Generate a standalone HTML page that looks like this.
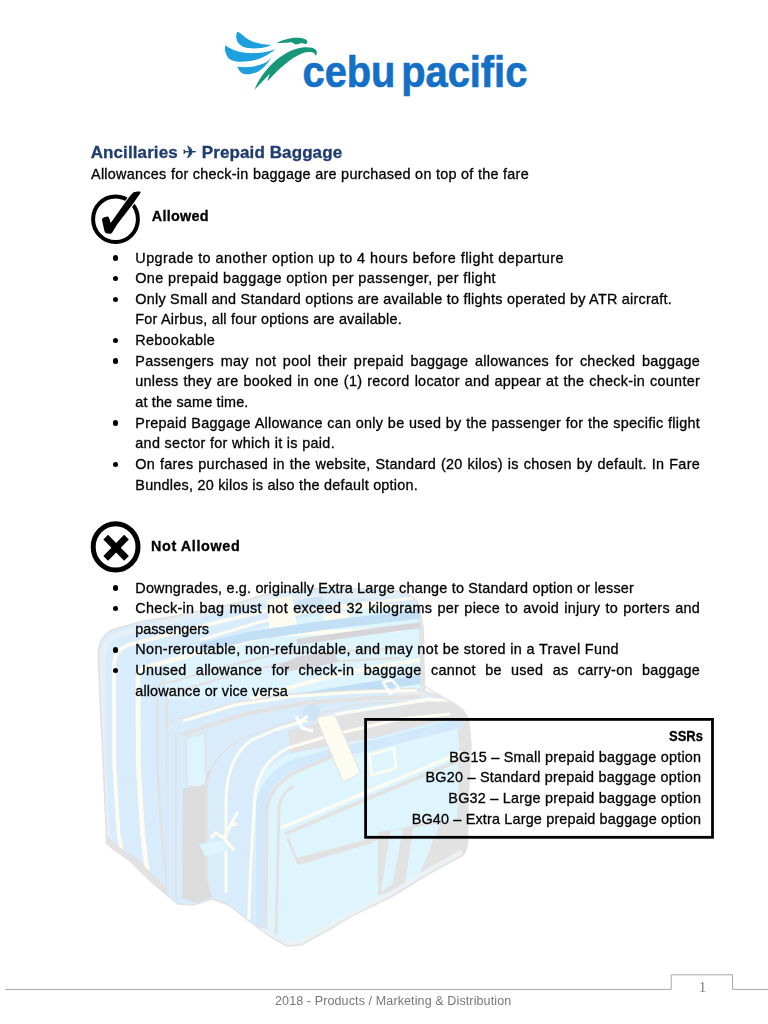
<!DOCTYPE html>
<html lang="en">
<head>
<meta charset="utf-8">
<title>Ancillaries - Prepaid Baggage</title>
<style>
html,body{margin:0;padding:0;background:#fff;}
body{width:768px;height:1024px;position:relative;overflow:hidden;font-family:"Liberation Sans","DejaVu Sans",sans-serif;color:#000;}
.t{position:absolute;white-space:pre;line-height:20px;height:20px;font-size:14.4px;-webkit-text-stroke:0.3px currentColor;}
.b{position:absolute;left:112.6px;width:5.6px;height:5.6px;border-radius:50%;background:#000;}
svg{position:absolute;left:0;top:0;}
</style>
</head>
<body>
<svg id="art" width="768" height="1024" viewBox="0 0 768 1024">
<defs><clipPath id="lc"><path d="M106.7,844 L103.5,770 L100,700 L98.3,655 C98.5,640 104,632 116,628.5 L143.5,621 L173,616.5 L202,610.5 L240,602.5 L266,594 L305,589 L331,587.7 L396,591 C408,592.5 416,597 419.5,606 L423,628 L424.5,686 L435,693 L454,703.5 C462,708 467,714 469,722 L471,745 L468,801 L467.5,841 C467,850 465,853 463,855 L430,873 L392.5,896 L350.8,916.7 L330,929 L301,945 L287,946 L268.4,935.5 L249.7,921.4 L228.6,905 L212.2,899 L193.4,905 L177.5,904 L152.5,883 L131.7,862.5 Z"/></clipPath><filter id="lb" x="-5%" y="-5%" width="110%" height="110%"><feGaussianBlur stdDeviation="0.7"/></filter></defs><g id="luggage" filter="url(#lb)"><g clip-path="url(#lc)"><path d="M106.7,844 L103.5,770 L100,700 L98.3,655 C98.5,640 104,632 116,628.5 L143.5,621 L173,616.5 L202,610.5 L240,602.5 L266,594 L305,589 L331,587.7 L396,591 C408,592.5 416,597 419.5,606 L423,628 L424.5,686 L424.5,760 L180,905 L177.5,904 L152.5,883 L131.7,862.5 Z" fill="#d8ecfb" stroke="#e2e2e2" stroke-width="1.6" stroke-linejoin="round" stroke-linecap="round"/><path d="M166,700 L166,668 C168,655 176,650 190,646 L260,628 L330,612 L400,604 L416,606 L419,640 L420,690 Z" fill="#dff5fd"/><path d="M111.7,850.0 L107.0,833.0 L102.8,765.0 L102.5,659.2 C102.8,644.8 108.5,637.4 120.5,633.9 L203.2,613.5 L266.8,598.1 L400.0,594.0" fill="none" stroke="#e6eff6" stroke-width="6" stroke-linejoin="round" stroke-linecap="butt"/><path d="M123.8,862.0 L118.5,833.0 L114.3,765.0 L114.0,665.5 C114.3,652.9 120.0,647.2 132.0,643.8 L206.7,625.0 L269.1,609.8 L400.0,605.5" fill="none" stroke="#fdfcf1" stroke-width="3.8" stroke-linejoin="round" stroke-linecap="butt"/><path d="M149.0,886.0 L142.5,833.0 L138.3,765.0 L138.0,678.7 C138.3,669.6 144.0,667.6 156.0,664.5 L213.8,649.0 L273.9,634.3 L400.0,629.5" fill="none" stroke="#fdfcf1" stroke-width="4.8" stroke-linejoin="round" stroke-linecap="butt"/><path d="M168.9,900.0 L161.5,833.0 L157.3,765.0 L157.0,689.2 C157.3,683.0 163.0,683.7 175.0,680.8 L219.6,668.0 L277.7,653.7 L400.0,648.5" fill="none" stroke="#e2e2e2" stroke-width="2.4" stroke-linejoin="round" stroke-linecap="butt"/><path d="M179.2,905.0 L171.3,833.0 L167.1,765.0 L166.8,694.6 C167.1,689.8 172.8,692.1 184.8,689.2 L222.5,677.8 L279.7,663.7 L400.0,658.3" fill="none" stroke="#e2e2e2" stroke-width="2.4" stroke-linejoin="round" stroke-linecap="butt"/><path d="M106.7,844 L131.7,862.5 L152.5,883 L177.5,904 L180,905 L180.5,899 L158,879 L136,858 L118,846 L107,836 Z" fill="#e2e2e2"/><path d="M266,600 L292,596 L297,626 L270,631 Z" fill="#fdfcf1"/><path d="M323,613 L349,611 L351,624 L325,626 Z" fill="#fdfcf1"/><path d="M298,600 L322,596 L326,612 L300,616 Z" fill="#cde4f7"/><path d="M200,648 L250,636 L330,624.5 L421,614" fill="none" stroke="#c2dff6" stroke-width="9" stroke-linejoin="round" stroke-linecap="butt"/><path d="M297,642 L360,633 L422,625" fill="none" stroke="#d6d6da" stroke-width="6" stroke-linejoin="round" stroke-linecap="butt"/><path d="M280,664 L300,656 L335,652 L338,662 L310,668 L284,672 Z" fill="#d6d6da"/><path d="M255,708 L298,698 L360,688 L423,679" fill="none" stroke="#c0def6" stroke-width="9" stroke-linejoin="round" stroke-linecap="butt"/><path d="M250,699 L320,679 L375,667 L420,660" fill="none" stroke="#fdfcf1" stroke-width="4" stroke-linejoin="round" stroke-linecap="butt"/><path d="M200,640 L260,622 L330,607 L415,598" fill="none" stroke="#fdfcf1" stroke-width="3" stroke-linejoin="round" stroke-linecap="butt"/><path d="M414,598 C419,602 421,606 421.5,612 L422.5,686" fill="none" stroke="#e2e2e2" stroke-width="4" stroke-linejoin="round" stroke-linecap="butt"/><path d="M167,905 L167,728 C168,722 172,720 183,718 L234.5,703 L292,694 L360,690 L417,688.5 L435,695 L454,703.5 C462,708 467,714 469,722 L471,745 L468,801 L467.5,841 L465,853 L300,940 Z" fill="#d8ecfb" stroke="#e2e2e2" stroke-width="1.4" stroke-linejoin="round" stroke-linecap="round"/><path d="M396,692 L417,690.5 L452,706 L440,712 L410,706 Z" fill="#ebebeb"/><path d="M183,721 L234.5,705 L292,696.5 L360,692 L417,690.5" fill="none" stroke="#fdfcf1" stroke-width="3.2" stroke-linejoin="round" stroke-linecap="butt"/><path d="M186,737 L240,718 L300,705 L370,699 L430,700" fill="none" stroke="#d8ecfb" stroke-width="7" stroke-linejoin="round" stroke-linecap="butt"/><path d="M178,736 L245,714 L305,703 L375,698 L420,697" fill="none" stroke="#e2e2e2" stroke-width="4" stroke-linejoin="round" stroke-linecap="butt"/><path d="M396,703 L430,699 L450,708" fill="none" stroke="#fdfcf1" stroke-width="3" stroke-linejoin="round" stroke-linecap="butt"/><path d="M167,728 L186,737 L186,790 L183,905 L167,905 Z" fill="#d8ecfb"/><path d="M176,732 L176,900" fill="none" stroke="#e2e2e2" stroke-width="1.6" stroke-linejoin="round" stroke-linecap="butt"/><path d="M186,738 L205,733 L206,783 L200,787 L187,786 Z" fill="#dff5fd" stroke="#e2e2e2" stroke-width="1.4" stroke-linejoin="round" stroke-linecap="round"/><path d="M183,789 L206,785 L208,770 L222,765 L222,872 L214,896 L196,903 L182,898 Z" fill="#dcdcdc"/><path d="M207,880 L207,790 C208,765 222,748 246,737 L274.6,727 L309,716 L360,704 L440,700 L456,706 C463,711 466,716 467,722 L471,745 L468,801 L467.5,841 C467,850 465,853 463,855 L430,873 L392.5,896 L350.8,916.7 L330,929 L301,945 L287,946 L268.4,935.5 L249.7,921.4 L228.6,905 L212.2,899 Z" fill="#d8ecfb" stroke="#e2e2e2" stroke-width="1.4" stroke-linejoin="round" stroke-linecap="round"/><path d="M256,925 L254.6,800 C256,778 268,762 290,754 L332,746 L376,738 L426,725 L458,718 L466,722 L468,801 L467.5,841 L463,855 L430,873 L392.5,896 L350.8,916.7 L330,929 L301,945 L287,946 L268.4,935.5 Z" fill="#dff5fd"/><path d="M452,708 L456,706 C464,711 467,717 468,723 L471,745 L468,801 L467.5,841 C467,850 465,853 463,855 L455,860 L458,800 L459,745 L457,722 Z" fill="#e2e2e2"/><path d="M288,731 L349,714 L428.6,701.5 L452,701.5 L464,711 L458,717 L426,724 L376,737 L290,753 Z" fill="#e2e2e2"/><path d="M226,893 L226,800 C227,772 234,752 252,740 L274.6,730 L309,719.5 L349,712 L428.6,699.8 L452,700" fill="none" stroke="#fdfcf1" stroke-width="3" stroke-linejoin="round" stroke-linecap="butt"/><path d="M248.5,924 L250.5,870 L254.6,800 C256,776 266,759 288,748 L332,735 L400,719 L450,714" fill="none" stroke="#fdfcf1" stroke-width="3" stroke-linejoin="round" stroke-linecap="butt"/><path d="M261,928 L261,806 C263,790 272,776 292,765 L333,753 L376,744.5 L426,731.5 L462,723" fill="none" stroke="#d2e9fb" stroke-width="10" stroke-linejoin="round" stroke-linecap="butt"/><path d="M265.5,930 L266.7,812 C268,795 277,783 295,772 L333,756" fill="none" stroke="#e2e2e2" stroke-width="3.6" stroke-linejoin="round" stroke-linecap="butt"/><path d="M276,938 L279,806 C281,796 286,790 294,786" fill="none" stroke="#e2e2e2" stroke-width="3" stroke-linejoin="round" stroke-linecap="butt"/><path d="M281,828 L366.7,792 L410,774 L462,752" fill="none" stroke="#fdfcf1" stroke-width="3.2" stroke-linejoin="round" stroke-linecap="butt"/><path d="M285,834 L366.7,799 L410,781 L462,759" fill="none" stroke="#e2e2e2" stroke-width="3.6" stroke-linejoin="round" stroke-linecap="butt"/><path d="M287.5,838 L298,863 L366.7,842 L440,818" fill="none" stroke="#e2e2e2" stroke-width="2.6" stroke-linejoin="round" stroke-linecap="butt"/><path d="M296,858 L299,865 L372,843 L372,838 Z" fill="#e2e2e2"/><path d="M378,832 L467,818 L467.5,841 L463,855 L420,879 L378,896 Z" fill="#e2e2e2"/><path d="M390.4,831 L402.9,829 L392.5,884 L381,892 Z" fill="#dff5fd"/><path d="M413,828 L440.4,823 L417.5,879 L405,885 Z" fill="#dff5fd"/><path d="M262,930 L287,943 L301,942 L330,926 L392.5,893 L430,870 L462,852" fill="none" stroke="#ebf2f7" stroke-width="5" stroke-linejoin="round" stroke-linecap="butt"/><path d="M316,717 L334.8,714.4 L360.6,773 L343.4,781.7 Z" fill="#fdfcf1" stroke="#e2e2e2" stroke-width="1" stroke-linejoin="round" stroke-linecap="round"/><ellipse cx="311.5" cy="712.5" rx="8.5" ry="8.5" fill="#cde4f7" stroke="#e2e2e2" stroke-width="1.2"/><path d="M296,716 L302,728 L313,731 M299,722 L308,716" fill="none" stroke="#ffffff" stroke-width="3" stroke-linejoin="round" stroke-linecap="butt"/><path d="M369,755 L394,748 L396,768 L372,775 Z" fill="#dff5fd" stroke="#fdfcf1" stroke-width="2.5" stroke-linejoin="round" stroke-linecap="round"/><path d="M199,844 L226,840 L228,851 L205,856 Z" fill="#dff5fd"/><path d="M211,838 L216,833 L224,838 L231,847 L234,850 M224,838 L232,822 L238,812 M230,826 L237,824" fill="none" stroke="#fdfcf1" stroke-width="3.2" stroke-linejoin="round" stroke-linecap="butt"/><path d="M383,682 L392,680 L399,688 L390,694 Z" fill="none" stroke="#ffffff" stroke-width="2.5" stroke-linejoin="round" stroke-linecap="butt"/></g><path d="M106.7,844 L103.5,770 L100,700 L98.3,655 C98.5,640 104,632 116,628.5 L143.5,621 L173,616.5 L202,610.5 L240,602.5 L266,594 L305,589 L331,587.7 L396,591 C408,592.5 416,597 419.5,606 L423,628 L424.5,686 L435,693 L454,703.5 C462,708 467,714 469,722 L471,745 L468,801 L467.5,841 C467,850 465,853 463,855 L430,873 L392.5,896 L350.8,916.7 L330,929 L301,945 L287,946 L268.4,935.5 L249.7,921.4 L228.6,905 L212.2,899 L193.4,905 L177.5,904 L152.5,883 L131.7,862.5 Z" fill="none" stroke="#e2e2e2" stroke-width="1.5" stroke-linejoin="round" stroke-linecap="round"/></g>
<g id="logo"><path d="M237.1,31.8C237.0,32.5 236.2,34.3 236.2,36.0C236.3,37.7 236.6,40.1 237.5,41.8C238.4,43.5 239.9,45.0 241.7,46.0C243.5,47.0 245.5,47.7 248.3,48.1C251.1,48.5 255.2,48.5 258.3,48.3C261.4,48.1 264.5,47.4 266.7,46.8C268.9,46.2 270.7,45.1 271.5,44.8C269.9,44.6 264.7,44.4 261.7,43.9C258.7,43.4 256.0,42.8 253.3,41.8C250.7,40.8 248.0,39.2 245.8,37.7C243.6,36.2 241.4,34.1 240.0,33.1C238.6,32.1 237.6,32.0 237.1,31.8Z" fill="#1ea0dc"/><path d="M225.4,45.2C225.3,46.0 224.7,48.3 225.0,50.2C225.3,52.1 226.4,55.1 227.5,56.8C228.6,58.5 229.6,59.4 231.7,60.2C233.8,61.0 236.9,61.7 240.0,61.8C243.1,61.9 246.7,61.5 250.0,61.0C253.3,60.5 256.9,59.6 260.0,58.5C263.1,57.4 265.5,56.0 268.3,54.3C271.1,52.6 275.3,49.5 276.7,48.5C275.6,48.9 272.8,50.3 270.0,51.0C267.2,51.7 263.6,52.4 260.0,52.7C256.4,53.1 252.2,53.4 248.3,53.1C244.4,52.8 239.9,51.9 236.7,51.0C233.5,50.1 231.1,48.7 229.2,47.7C227.3,46.7 226.0,45.6 225.4,45.2Z" fill="#1ea0dc"/><path d="M237.5,66.8C237.9,67.6 238.9,70.2 240.0,71.4C241.1,72.6 242.4,73.5 244.2,73.9C246.0,74.3 248.5,74.3 250.8,73.9C253.2,73.5 255.9,72.7 258.3,71.4C260.7,70.1 262.7,68.4 265.0,66.0C267.3,63.6 270.9,58.3 272.1,56.8C271.2,57.6 268.7,60.5 266.7,61.8C264.7,63.1 262.5,63.9 260.0,64.8C257.5,65.6 254.3,66.4 251.7,66.8C249.1,67.2 246.6,67.2 244.2,67.2C241.8,67.2 238.6,66.9 237.5,66.8Z" fill="#1ea0dc"/><path d="M254.2,90.0C255.1,88.3 257.3,83.1 259.4,79.7C261.5,76.3 264.1,72.7 266.9,69.4C269.7,66.1 273.1,62.7 276.2,60.0C279.4,57.3 282.5,55.2 285.6,53.4C288.7,51.6 291.9,50.2 295.0,49.2C298.1,48.2 301.6,47.5 304.4,47.3C307.2,47.1 309.9,47.3 311.9,47.8C313.8,48.3 315.3,49.3 316.1,50.2C316.9,51.1 316.8,52.5 316.8,53.4C316.7,54.3 315.8,55.4 315.6,55.8C315.3,55.3 315.0,53.6 313.8,53.0C312.5,52.4 310.3,51.9 308.1,52.0C305.9,52.1 303.1,52.9 300.6,53.9C298.1,54.9 295.6,56.5 293.1,58.1C290.6,59.7 288.1,61.7 285.6,63.8C283.1,65.8 280.4,68.1 278.1,70.3C275.8,72.5 273.4,75.1 271.6,76.9C269.8,78.7 268.0,80.4 267.3,81.1L269.7,74C268.8,75.0 265.8,77.9 264.0,79.7C262.2,81.5 260.6,83.3 259.0,85.0C257.4,86.7 255.0,89.2 254.2,90.0Z" fill="#17977a"/><path d="M276.7,42.9C277.7,42.5 280.2,41.1 282.8,40.3C285.4,39.5 289.2,38.4 292.2,38.0C295.2,37.6 298.3,37.7 300.6,38.0C302.9,38.3 305.1,38.9 306.2,39.8C307.4,40.6 307.2,42.5 307.4,43.1C307.0,43.2 306.4,44.0 305.3,44.0C304.2,44.0 302.2,43.2 300.6,43.3C299.0,43.4 297.3,44.6 295.9,44.5C294.5,44.4 293.9,42.7 292.2,42.4C290.5,42.1 288.2,42.6 285.6,42.7C283.0,42.8 278.2,42.9 276.7,42.9Z" fill="#17977a"/></g>
<ellipse cx="115.5" cy="219.3" rx="22.4" ry="22.8" fill="none" stroke="#000" stroke-width="4"/><path d="M101.9,219.5 C102.3,217.8 104.5,216.8 107.6,216.4 C108.6,216.6 109,217.3 109.2,218.2 L110.7,223 L127.4,199.6 C129.4,196.6 131.5,194 133.6,192.2 C136,191.6 138.5,191.2 139.9,191.5 C140.6,191.8 140.7,192.3 140.4,192.9 C139.5,194.5 138.5,196 137.3,197.5 L132.3,204.8 L117.3,224.2 L112.4,232.2 C111.8,233.2 110.8,233.7 109.7,233.7 L106.2,233.3 C105.2,232.9 104.6,231.8 104.3,230.6 L102.7,223.2 Z" fill="#000" stroke="#fff" stroke-width="2.2" paint-order="stroke" stroke-linejoin="round"/><ellipse cx="115.6" cy="546.9" rx="22.4" ry="23.1" fill="none" stroke="#000" stroke-width="5"/><path d="M105.7,537.1L126.5,558.4M126.5,537.1L105.7,558.4" stroke="#000" stroke-width="6.6" fill="none"/>
<text transform="translate(302.5,87) scale(0.885,1)" font-family="Liberation Sans, sans-serif" font-size="45" font-weight="bold" fill="#1470c6" stroke="#1470c6" stroke-width="0.7" word-spacing="-6">cebu pacific</text>
<rect x="365.6" y="719.4" width="346.9" height="117.9" fill="none" stroke="#000" stroke-width="2.8"/>
<path d="M5 989.4H671.2V974.8H732.5V989.4H768" fill="none" stroke="#9d9d9d" stroke-width="0.9"/>
</svg>
<div id="txt" style="position:absolute;left:0;top:0;width:768px;height:1024px;will-change:transform;">
<div class="b" style="top:255.20px"></div><div class="b" style="top:275.85px"></div><div class="b" style="top:296.50px"></div><div class="b" style="top:337.80px"></div><div class="b" style="top:358.45px"></div><div class="b" style="top:420.40px"></div><div class="b" style="top:461.70px"></div><div class="b" style="top:585.20px"></div><div class="b" style="top:605.85px"></div><div class="b" style="top:647.15px"></div><div class="b" style="top:667.80px"></div>
<div class="t" style="left:90.70px;top:142.61px;font-size:17px;letter-spacing:0.103px;font-weight:bold;color:#1f3c70;">Ancillaries ✈ Prepaid Baggage</div>
<div class="t" style="left:91.00px;top:164.31px;font-size:14.4px;letter-spacing:0.281px;">Allowances for check-in baggage are purchased on top of the fare</div>
<div class="t" style="left:151.75px;top:205.61px;font-size:14.4px;letter-spacing:0.268px;font-weight:bold;">Allowed</div>
<div class="t" style="left:135.30px;top:247.51px;font-size:14.4px;letter-spacing:0.455px;">Upgrade to another option up to 4 hours before flight departure</div>
<div class="t" style="left:135.30px;top:268.16px;font-size:14.4px;letter-spacing:0.382px;">One prepaid baggage option per passenger, per flight</div>
<div class="t" style="left:135.30px;top:288.81px;font-size:14.4px;letter-spacing:0.247px;">Only Small and Standard options are available to flights operated by ATR aircraft.</div>
<div class="t" style="left:135.30px;top:309.46px;font-size:14.4px;letter-spacing:0.231px;">For Airbus, all four options are available.</div>
<div class="t" style="left:135.30px;top:330.11px;font-size:14.4px;letter-spacing:0.289px;">Rebookable</div>
<div class="t" style="left:135.30px;top:350.76px;font-size:14.4px;letter-spacing:0.270px;word-spacing:2.416px;">Passengers may not pool their prepaid baggage allowances for checked baggage</div>
<div class="t" style="left:135.30px;top:371.41px;font-size:14.4px;letter-spacing:0.270px;word-spacing:0.736px;">unless they are booked in one (1) record locator and appear at the check-in counter</div>
<div class="t" style="left:135.30px;top:392.06px;font-size:14.4px;letter-spacing:0.165px;">at the same time.</div>
<div class="t" style="left:135.30px;top:412.71px;font-size:14.4px;letter-spacing:0.270px;word-spacing:0.299px;">Prepaid Baggage Allowance can only be used by the passenger for the specific flight</div>
<div class="t" style="left:135.30px;top:433.36px;font-size:14.4px;letter-spacing:0.316px;">and sector for which it is paid.</div>
<div class="t" style="left:135.30px;top:454.01px;font-size:14.4px;letter-spacing:0.270px;word-spacing:0.719px;">On fares purchased in the website, Standard (20 kilos) is chosen by default. In Fare</div>
<div class="t" style="left:135.30px;top:474.66px;font-size:14.4px;letter-spacing:0.238px;">Bundles, 20 kilos is also the default option.</div>
<div class="t" style="left:151.00px;top:535.81px;font-size:14.4px;letter-spacing:0.608px;font-weight:bold;">Not Allowed</div>
<div class="t" style="left:135.30px;top:577.51px;font-size:14.4px;letter-spacing:0.196px;">Downgrades, e.g. originally Extra Large change to Standard option or lesser</div>
<div class="t" style="left:135.30px;top:598.16px;font-size:14.4px;letter-spacing:0.270px;word-spacing:0.986px;">Check-in bag must not exceed 32 kilograms per piece to avoid injury to porters and</div>
<div class="t" style="left:135.30px;top:618.81px;font-size:14.4px;letter-spacing:-0.071px;">passengers</div>
<div class="t" style="left:135.30px;top:639.46px;font-size:14.4px;letter-spacing:0.350px;">Non-reroutable, non-refundable, and may not be stored in a Travel Fund</div>
<div class="t" style="left:135.30px;top:660.11px;font-size:14.4px;letter-spacing:0.270px;word-spacing:5.085px;">Unused allowance for check-in baggage cannot be used as carry-on baggage</div>
<div class="t" style="left:135.30px;top:680.76px;font-size:14.4px;letter-spacing:0.136px;">allowance or vice versa</div>
<div class="t" style="left:669.00px;top:726.31px;font-size:14.4px;transform:scaleX(0.9044);transform-origin:0 0;font-weight:bold;">SSRs</div>
<div class="t" style="left:449.30px;top:746.66px;font-size:14.4px;letter-spacing:0.228px;">BG15 – Small prepaid baggage option</div>
<div class="t" style="left:425.50px;top:767.31px;font-size:14.4px;letter-spacing:0.246px;">BG20 – Standard prepaid baggage option</div>
<div class="t" style="left:448.30px;top:787.96px;font-size:14.4px;letter-spacing:0.233px;">BG32 – Large prepaid baggage option</div>
<div class="t" style="left:411.70px;top:808.61px;font-size:14.4px;letter-spacing:0.175px;">BG40 – Extra Large prepaid baggage option</div>
<div class="t" style="left:275.00px;top:990.97px;font-size:12.5px;letter-spacing:0.118px;color:#777777;-webkit-text-stroke:0;">2018 - Products / Marketing &amp; Distribution</div>
<div class="t" style="left:698.70px;top:976.60px;font-size:15px;letter-spacing:-0.400px;font-family:'Liberation Serif',serif;color:#7f7f7f;-webkit-text-stroke:0;">1</div>
</div>
</body>
</html>
